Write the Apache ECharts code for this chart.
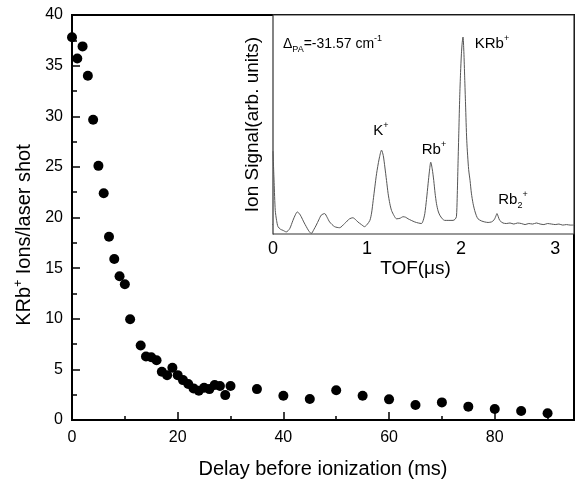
<!DOCTYPE html>
<html><head><meta charset="utf-8">
<script src="https://cdn.jsdelivr.net/npm/echarts@6/dist/echarts.min.js"></script>
<style>html,body{margin:0;padding:0;background:#fff}#c{width:578px;height:484px}</style>
</head><body><div id="c"></div>
<script>
// Main panel: KRb+ ions per shot vs delay
const delayMs = [0,1,2,3,4,5,6,7,8,9,10,11,13,14,15,16,17,18,19,20,21,22,23,24,25,26,27,28,29,30,35,40,45,50,55,60,65,70,75,80,85,90];
const ionsPerShot = [37.8,35.7,36.9,34.0,29.65,25.1,22.4,18.1,15.9,14.2,13.4,9.95,7.36,6.27,6.2,5.9,4.77,4.43,5.16,4.43,3.94,3.55,3.12,2.9,3.19,3.05,3.45,3.35,2.46,3.35,3.05,2.4,2.07,2.93,2.4,2.04,1.48,1.74,1.32,1.08,0.89,0.66];
const mainXTicks = [0,20,40,60,80];
const mainXMinor = [10,30,50,70,90];

// Inset: TOF spectrum
const tofUs = [0,0.012,0.024,0.038,0.053,0.08,0.106,0.141,0.177,0.212,0.236,0.258,0.28,0.300,0.327,0.354,0.38,0.407,0.433,0.460,0.487,0.513,0.549,0.575,0.602,0.655,0.708,0.761,0.814,0.849,0.875,0.902,0.94,0.973,1.0,1.03,1.048,1.065,1.083,1.101,1.128,1.154,1.172,1.189,1.207,1.224,1.242,1.260,1.287,1.313,1.35,1.383,1.41,1.436,1.47,1.507,1.545,1.579,1.597,1.614,1.632,1.649,1.663,1.677,1.693,1.709,1.723,1.738,1.755,1.773,1.80,1.826,1.87,1.914,1.935,1.950,1.958,1.967,1.976,1.985,1.994,2.003,2.012,2.020,2.029,2.038,2.047,2.06,2.08,2.095,2.109,2.127,2.144,2.162,2.179,2.215,2.251,2.287,2.322,2.34,2.357,2.369,2.381,2.395,2.410,2.445,2.48,2.52,2.56,2.60,2.64,2.68,2.72,2.76,2.80,2.84,2.88,2.92,2.96,3.00,3.04,3.08,3.12,3.16,3.2];
const tofSignal = [1.40,0.80,0.27,0.08,-0.04,-0.09,-0.11,-0.14,-0.08,0.08,0.18,0.24,0.21,0.15,0.05,-0.04,-0.12,-0.17,-0.10,-0.01,0.09,0.18,0.21,0.14,0.05,-0.04,-0.06,0.02,0.11,0.13,0.10,0.05,0.00,-0.04,0.00,0.08,0.22,0.46,0.72,0.97,1.25,1.42,1.32,1.10,0.84,0.59,0.40,0.27,0.17,0.11,0.12,0.15,0.14,0.11,0.08,0.05,0.03,0.02,0.08,0.21,0.48,0.78,1.02,1.19,1.06,0.84,0.60,0.40,0.26,0.18,0.11,0.08,0.08,0.08,0.10,0.15,0.50,1.16,1.80,2.43,2.90,3.26,3.48,3.58,3.30,2.80,2.30,1.60,1.05,0.84,0.60,0.40,0.27,0.17,0.11,0.07,0.05,0.04,0.05,0.07,0.11,0.16,0.21,0.15,0.08,0.03,0.02,0.03,0.01,0.03,0.02,0.00,0.02,0.01,0.03,0.01,0.00,0.02,0.01,0.00,0.01,-0.01,0.00,-0.01,-0.01];
const insetXTicks = [0.5,1,1.5,2,2.5,3];
const insetXLabels = [0,1,2,3];
const insetYTicks = [0,1,2,3];

const FONT = 'Liberation Sans, Arial, sans-serif';
const chart = echarts.init(document.getElementById('c'), null, {renderer:'canvas'});
const tofData = tofUs.map((t,i)=>[t,tofSignal[i]]);
const mainData = delayMs.map((d,i)=>[d,ionsPerShot[i]]);

chart.setOption({
  animation:false,
  backgroundColor:'#fff',
  textStyle:{fontFamily:FONT},
  grid:[
    {left:72,top:15,width:502,height:406.5,show:true,borderColor:'#000',borderWidth:2,containLabel:false},
    {left:273,top:15,width:301,height:219,show:true,borderColor:'#333',borderWidth:1.2,backgroundColor:'#fff',z:5}
  ],
  xAxis:[
    {gridIndex:0,type:'value',min:0,max:95,interval:20,
     name:'Delay before ionization (ms)',nameLocation:'middle',nameGap:39,
     nameTextStyle:{fontSize:20,color:'#000',fontFamily:FONT},
     axisLine:{show:true,lineStyle:{color:'#000',width:2}},
     axisTick:{show:true,inside:true,length:8,customValues:mainXTicks,lineStyle:{color:'#000',width:1.5}},
     axisLabel:{customValues:mainXTicks,fontSize:16,color:'#000',margin:10,fontFamily:FONT},
     splitLine:{show:false}},
    {gridIndex:0,type:'value',min:0,max:95,position:'bottom',
     axisLine:{show:false},
     axisTick:{show:true,inside:true,length:4,customValues:mainXMinor,lineStyle:{color:'#000',width:1.5}},
     axisLabel:{show:false},splitLine:{show:false}},
    {gridIndex:1,type:'value',min:0,max:3.2,
     name:'TOF(\u03bcs)',nameLocation:'middle',nameGap:25,
     nameTextStyle:{fontSize:19,color:'#000',fontFamily:FONT,padding:[0,16,0,0]},
     axisLine:{show:true,lineStyle:{color:'#444',width:1}},
     axisTick:{show:true,inside:true,length:3,customValues:insetXTicks,lineStyle:{color:'#444',width:1}},
     axisLabel:{customValues:insetXLabels,fontSize:18,color:'#000',margin:6,fontFamily:FONT},
     splitLine:{show:false}}
  ],
  yAxis:[
    {gridIndex:0,type:'value',min:0,max:40,interval:5,
     axisLine:{show:true,lineStyle:{color:'#000',width:2}},
     axisTick:{show:true,inside:true,length:8,lineStyle:{color:'#000',width:1.5}},
     minorTick:{show:true,splitNumber:2,length:5,lineStyle:{color:'#000',width:1.5}},
     axisLabel:{fontSize:16,color:'#000',margin:9,fontFamily:FONT},
     splitLine:{show:false},minorSplitLine:{show:false}},
    {gridIndex:1,type:'value',min:-0.18,max:4,
     name:'Ion Signal(arb. units)',nameLocation:'middle',nameGap:11,
     nameTextStyle:{fontSize:19,color:'#000',fontFamily:FONT},
     axisLine:{show:true,lineStyle:{color:'#444',width:1}},
     axisTick:{show:true,inside:true,length:4,customValues:insetYTicks,lineStyle:{color:'#444',width:1}},
     axisLabel:{show:false},splitLine:{show:false}}
  ],
  series:[
    {type:'scatter',xAxisIndex:0,yAxisIndex:0,data:mainData,symbol:'circle',symbolSize:10,
     itemStyle:{color:'#000',opacity:1},clip:false,z:3},
    {type:'line',xAxisIndex:2,yAxisIndex:1,data:tofData,showSymbol:false,smooth:0.25,
     lineStyle:{color:'#555',width:1},z:6}
  ],
  graphic:[
    {type:'text',x:24,y:235,rotation:Math.PI/2,z:10,
     style:{text:'KRb{sup|+} Ions/laser shot',fill:'#000',font:'20px '+FONT,align:'center',verticalAlign:'middle',
       rich:{sup:{fontSize:12,verticalAlign:'top',lineHeight:22,fill:'#000'}}}},
    {type:'text',x:283,y:44,z:10,
     style:{text:'\u0394{sub|PA}=-31.57 cm{sup|-1}',fill:'#000',font:'14px '+FONT,verticalAlign:'middle',
       rich:{sub:{fontSize:9,verticalAlign:'bottom',lineHeight:20},sup:{fontSize:9,verticalAlign:'top',lineHeight:20}}}},
    {type:'text',x:381,y:131,z:10,
     style:{text:'K{sup|+}',fill:'#000',font:'15px '+FONT,align:'center',verticalAlign:'middle',
       rich:{sup:{fontSize:9,verticalAlign:'top',lineHeight:20}}}},
    {type:'text',x:434,y:150,z:10,
     style:{text:'Rb{sup|+}',fill:'#000',font:'15px '+FONT,align:'center',verticalAlign:'middle',
       rich:{sup:{fontSize:9,verticalAlign:'top',lineHeight:20}}}},
    {type:'text',x:492,y:44,z:10,
     style:{text:'KRb{sup|+}',fill:'#000',font:'15px '+FONT,align:'center',verticalAlign:'middle',
       rich:{sup:{fontSize:9,verticalAlign:'top',lineHeight:20}}}},
    {type:'text',x:513,y:200,z:10,
     style:{text:'Rb{sub|2}{sup|+}',fill:'#000',font:'15px '+FONT,align:'center',verticalAlign:'middle',
       rich:{sub:{fontSize:9,verticalAlign:'bottom',lineHeight:20},sup:{fontSize:9,verticalAlign:'top',lineHeight:20}}}}
  ]
});
</script></body></html>
